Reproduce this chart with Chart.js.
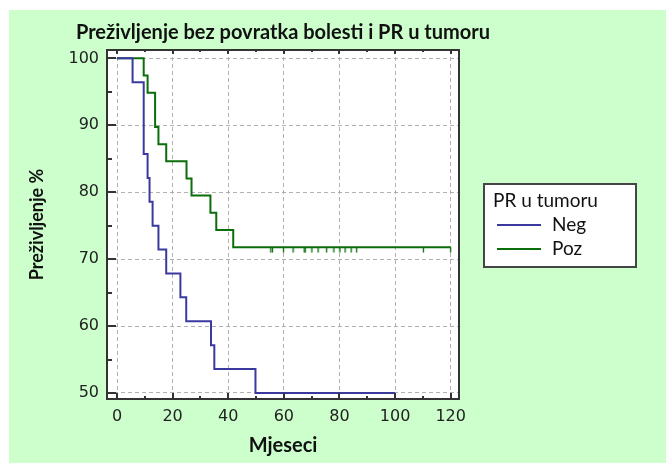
<!DOCTYPE html>
<html>
<head>
<meta charset="utf-8">
<title>Preživljenje bez povratka bolesti i PR u tumoru</title>
<script src="https://cdn.jsdelivr.net/npm/chart.js@4.4.0/dist/chart.umd.min.js"></script>
<style>
  body { margin: 0; background: #ffffff; }
</style>
</head>
<body>
<canvas id="graf" width="666" height="463"></canvas>
<script>
const naslov = "Preživljenje bez povratka bolesti i PR u tumoru";
const naslov_x = "Mjeseci";
const naslov_y = "Preživljenje %";
const legenda_naslov = "PR u tumoru";

const x_oznake = [0, 20, 40, 60, 80, 100, 120];
const y_oznake = [50, 60, 70, 80, 90, 100];

// Kaplan-Meier koraci, očitano sa slike
const neg_mjeseci = [0, 5.6, 9.6, 11.0, 11.7, 12.8, 14.9, 17.7, 22.8, 24.9, 33.8, 35.0, 49.8, 100];
const neg_prezivljenje = [100, 96.43, 85.71, 82.14, 78.57, 75.0, 71.43, 67.86, 64.29, 60.71, 57.14, 53.57, 50.0, 50.0];

const poz_mjeseci = [0, 9.6, 11.0, 13.7, 14.9, 17.7, 25.0, 26.8, 33.6, 35.7, 41.8, 120];
const poz_prezivljenje = [100, 97.44, 94.87, 89.74, 87.18, 84.62, 82.05, 79.49, 76.92, 74.36, 71.79, 71.79];
const poz_cenzurirani = [55.3, 55.9, 59.9, 63.3, 67.3, 67.7, 70.1, 72.3, 75.4, 78.0, 80.2, 82.0, 84.2, 86.2, 110.2, 120];

const boja_neg = "#3a3a9e";
const boja_poz = "#0b6e0b";
const font = "Lato";
const font_brojevi = "DejaVu Sans";

function tocke(mjeseci, vrijednosti) {
  let out = [];
  for (let i = 0; i < mjeseci.length; i++) {
    out.push({ x: mjeseci[i], y: vrijednosti[i] });
  }
  return out;
}

function vrijednost_u(mjeseci, vrijednosti, t) {
  let v = vrijednosti[0];
  for (let i = 0; i < mjeseci.length; i++) {
    if (mjeseci[i] <= t) v = vrijednosti[i];
  }
  return v;
}

// oznaka za cenzurirane: crtica ispod linije
const crtica = document.createElement("canvas");
crtica.width = 3;
crtica.height = 12;
let cctx = crtica.getContext("2d");
cctx.strokeStyle = boja_poz;
cctx.lineWidth = 1.3;
cctx.beginPath();
cctx.moveTo(1.5, 6);
cctx.lineTo(1.5, 11.5);
cctx.stroke();

const pozadina = {
  id: "pozadina",
  beforeDraw(chart) {
    const c = chart.ctx;
    const a = chart.chartArea;
    c.save();
    c.fillStyle = "#ffffff";
    c.fillRect(0, 0, chart.width, chart.height);
    c.fillStyle = "#ccffcc";
    c.fillRect(9, 10, chart.width - 9, chart.height - 10);
    c.fillStyle = "#ffffff";
    c.fillRect(a.left, a.top, a.right - a.left, a.bottom - a.top);
    // naslov iznad grafa
    c.fillStyle = "#111111";
    c.font = "bold 20px " + font;
    c.textAlign = "center";
    c.textBaseline = "middle";
    c.fillText(naslov, (a.left + a.right) / 2, 33);
    c.restore();
  }
};

const okvir = {
  id: "okvir",
  afterDraw(chart) {
    const c = chart.ctx;
    const a = chart.chartArea;
    const sx = chart.scales.x;
    const sy = chart.scales.y;
    c.save();
    c.strokeStyle = "#333333";
    c.lineWidth = 2;
    c.strokeRect(a.left, a.top, a.right - a.left, a.bottom - a.top);
    c.lineWidth = 2;
    c.beginPath();
    for (let i = 0; i < y_oznake.length; i++) {
      let y = Math.round(sy.getPixelForValue(y_oznake[i]));
      c.moveTo(a.left, y);
      c.lineTo(a.left + 9, y);
      if (i < y_oznake.length - 1) {
        let ym = Math.round(sy.getPixelForValue((y_oznake[i] + y_oznake[i + 1]) / 2));
        c.moveTo(a.left, ym);
        c.lineTo(a.left + 5, ym);
      }
    }
    for (let i = 0; i < x_oznake.length; i++) {
      let x = Math.round(sx.getPixelForValue(x_oznake[i]));
      c.moveTo(x, a.bottom);
      c.lineTo(x, a.bottom - 6);
      c.moveTo(x, a.top);
      c.lineTo(x, a.top + 4);
      if (i < x_oznake.length - 1) {
        let xm = Math.round(sx.getPixelForValue((x_oznake[i] + x_oznake[i + 1]) / 2));
        c.moveTo(xm, a.bottom);
        c.lineTo(xm, a.bottom - 3);
        c.moveTo(xm, a.top);
        c.lineTo(xm, a.top + 2);
      }
    }
    c.stroke();
    c.restore();
  }
};

const legenda = {
  id: "legenda",
  afterDraw(chart) {
    const c = chart.ctx;
    const a = chart.chartArea;
    const lx = a.right + 25;
    const ly = 184;
    c.save();
    c.fillStyle = "#ffffff";
    c.fillRect(lx, ly, 152, 83);
    c.strokeStyle = "#444444";
    c.lineWidth = 2;
    c.strokeRect(lx, ly, 152, 83);
    c.fillStyle = "#111111";
    c.font = "19px " + font;
    c.textBaseline = "middle";
    c.fillText(legenda_naslov, lx + 9, ly + 17);
    const skupovi = chart.data.datasets.filter(d => d.uLegendi);
    for (let i = 0; i < skupovi.length; i++) {
      let y = ly + 41 + i * 24;
      c.strokeStyle = skupovi[i].borderColor;
      c.lineWidth = 2;
      c.beginPath();
      c.moveTo(lx + 13, y);
      c.lineTo(lx + 57, y);
      c.stroke();
      c.fillStyle = "#111111";
      c.fillText(skupovi[i].label, lx + 68, y);
    }
    c.restore();
  }
};

const ctx = document.getElementById("graf");

let graf = new Chart(ctx, {
  type: "scatter",
  data: {
    datasets: [
      {
        label: "Neg",
        data: tocke(neg_mjeseci, neg_prezivljenje),
        showLine: true,
        stepped: true,
        borderColor: boja_neg,
        borderWidth: 2,
        pointRadius: 0,
        uLegendi: true
      },
      {
        label: "Poz",
        data: tocke(poz_mjeseci, poz_prezivljenje),
        showLine: true,
        stepped: true,
        borderColor: boja_poz,
        borderWidth: 2,
        pointRadius: 0,
        uLegendi: true
      },
      {
        label: "Poz cenzurirani",
        data: poz_cenzurirani.map(t => ({ x: t, y: vrijednost_u(poz_mjeseci, poz_prezivljenje, t) })),
        pointStyle: crtica,
        pointRadius: 3,
        uLegendi: false
      }
    ]
  },
  options: {
    responsive: false,
    animation: false,
    layout: { padding: { left: 0, right: 207, top: 50, bottom: 0 } },
    plugins: {
      legend: { display: false },
      tooltip: { enabled: false },
      title: { display: false }
    },
    scales: {
      x: {
        type: "linear",
        min: -3.6,
        max: 123,
        afterBuildTicks: (s) => { s.ticks = x_oznake.map(v => ({ value: v })); },
        afterFit: (s) => { s.height = 64; },
        grid: { color: "#b0b0b0", lineWidth: 1, drawTicks: false },
        border: { display: false, dash: [4, 3] },
        ticks: { color: "#222222", font: { family: font_brojevi, size: 16 }, padding: 8, maxRotation: 0 },
        title: { display: true, text: naslov_x, color: "#111111", font: { family: font, size: 20, weight: "bold" }, padding: { top: 0, bottom: 5 } }
      },
      y: {
        type: "linear",
        min: 49.1,
        max: 101.25,
        afterBuildTicks: (s) => { s.ticks = y_oznake.map(v => ({ value: v })); },
        afterFit: (s) => { s.width = 107; },
        grid: { color: "#b0b0b0", lineWidth: 1, drawTicks: false },
        border: { display: false, dash: [4, 3] },
        ticks: { color: "#222222", font: { family: font_brojevi, size: 16 }, padding: 8 },
        title: { display: true, text: naslov_y, color: "#111111", font: { family: font, size: 18, weight: "bold" }, padding: { top: 26, bottom: 0 } }
      }
    }
  },
  plugins: [pozadina, okvir, legenda]
});
</script>
</body>
</html>
